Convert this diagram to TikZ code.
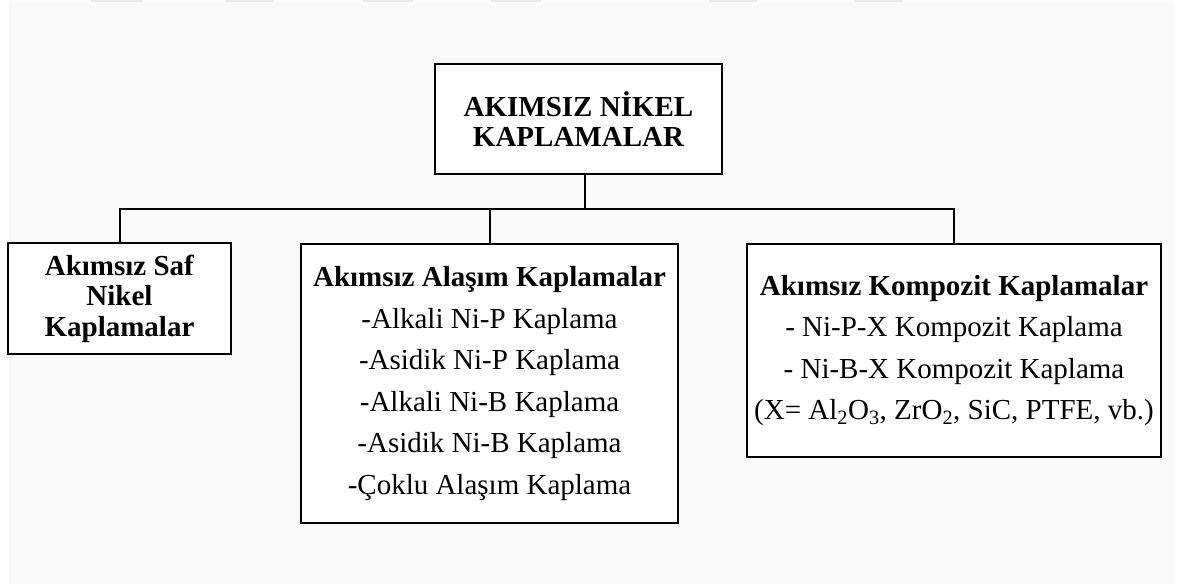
\documentclass[tikz,border=0pt]{standalone}
\usepackage{fontspec}
\setmainfont{Liberation Serif}
\begin{document}
\begin{tikzpicture}[x=1pt,y=-1pt,
  box/.style={draw=black, line width=2pt, fill=white, align=center, inner sep=0pt},
  link/.style={draw=black, line width=2pt},
  tab/.style={fill=black!9, draw=none}]
\useasboundingbox (0,0) rectangle (1187,584);
\fill[white] (0,0) rectangle (1187,584);
\fill[black!2.5] (9,2) rectangle (1174,584);
\foreach \a/\b in {91/142,226/274,363/413,491/541,709/757,854/902}
  \fill[tab] (\a,0) rectangle (\b,2);

\node[box, minimum width=287, minimum height=110,
  font=\bfseries\fontsize{29}{29.5}\selectfont] (top) at (578.5,119)
  {AKIMSIZ NİKEL\\KAPLAMALAR};

\node[box, minimum width=223, minimum height=111,
  font=\fontsize{29}{30.5}\selectfont] (left) at (119.5,298.5)
  {\textbf{Akımsız Saf}\\\textbf{Nikel}\\\textbf{Kaplamalar}};

\node[box, minimum width=377, minimum height=279,
  font=\fontsize{29}{41.5}\selectfont] (mid) at (489.5,383.5)
  {\textbf{Akımsız Alaşım Kaplamalar}\\-Alkali Ni-P Kaplama\\-Asidik Ni-P Kaplama\\-Alkali Ni-B Kaplama\\-Asidik Ni-B Kaplama\\-Çoklu Alaşım Kaplama};

\node[box, minimum width=414, minimum height=213,
  font=\fontsize{29}{41.5}\selectfont] (right) at (954,350.5)
  {\textbf{Akımsız Kompozit Kaplamalar}\\- Ni-P-X Kompozit Kaplama\\- Ni-B-X Kompozit Kaplama\\(X= Al\textsubscript{2}O\textsubscript{3}, ZrO\textsubscript{2}, SiC, PTFE, vb.)};

\coordinate (j) at (585,209);
\draw[link] (top.south -| j) -- (j);
\draw[link] (left.north) |- (j) -| (right.north);
\draw[link] (mid.north) -- (mid.north |- j);
\end{tikzpicture}
\end{document}
